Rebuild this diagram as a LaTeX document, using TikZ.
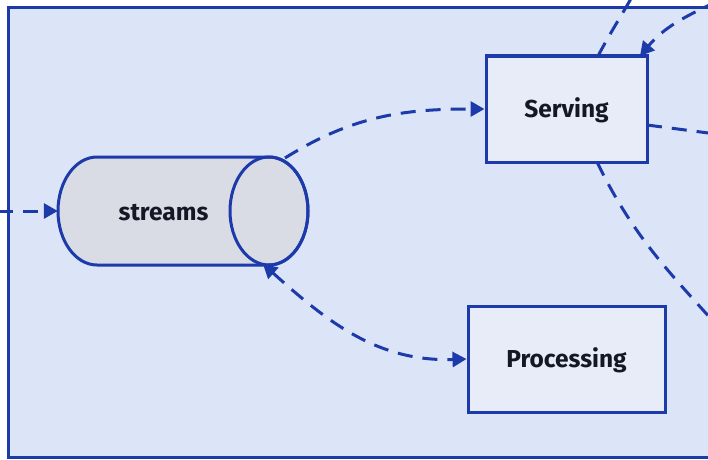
\documentclass[tikz,border=0pt]{standalone}
\usepackage{fontspec}
\setmainfont{Fira Sans}
\usetikzlibrary{arrows.meta}
\definecolor{edgeblue}{HTML}{1C3AA9}
\definecolor{areafill}{HTML}{DCE4F7}
\definecolor{boxfill}{HTML}{E8ECF8}
\definecolor{drumfill}{HTML}{D9DCE5}
\definecolor{labelink}{HTML}{141824}
\tikzset{
  frame/.style={draw=edgeblue, line width=3pt, fill=areafill},
  labelfont/.style={font=\fontsize{24.5}{29}\selectfont\bfseries, text=labelink},
  stagebox/.style={draw=edgeblue, line width=3pt, fill=boxfill, labelfont, inner sep=0pt,
    text depth=2pt},
  flow/.style={draw=edgeblue, line width=3pt, dash pattern=on 15pt off 10pt},
  tip/.style={-{Triangle[length=14pt,width=15pt]}},
  tips/.style={{Triangle[length=14pt,width=15pt]}-{Triangle[length=14pt,width=15pt]}},
}
\begin{document}
\begin{tikzpicture}[x=1pt,y=1pt]
  \useasboundingbox (0,0) rectangle (708,459);
  \clip (0,0) rectangle (708,459);
  \fill[white] (0,0) rectangle (708,459);
  % enclosing area
  \draw[frame] (8,2) rectangle (760,451);

  % streams drum
  \draw[draw=edgeblue, line width=3pt, fill=drumfill]
    (269,302) -- (97,302)
    arc[start angle=90, end angle=270, x radius=39, y radius=54]
    -- (269,194)
    arc[start angle=-90, end angle=90, x radius=39, y radius=54] -- cycle;
  \draw[draw=edgeblue, line width=3pt] (269,248) ellipse[x radius=39, y radius=54];
  \node[minimum width=250pt, minimum height=108pt, inner sep=0pt] (streams) at (183,248) {};
  \node[labelfont] (streamslabel) at (163.5,246) {streams};
  \coordinate (drumtop) at (285,301);
  \coordinate (drumbot) at (263,195);

  % stages
  \node[stagebox, minimum width=161pt, minimum height=106pt] (serving) at (566.5,350) {Serving};
  \node[stagebox, minimum width=197pt, minimum height=106pt] (processing) at (566.5,100) {Processing};

  % loose ends leaving the view
  \coordinate (inleft) at (-2,248);
  \coordinate (outup) at (632,462);
  \coordinate (infromup) at (718,458);
  \coordinate (outright) at (716,325);
  \coordinate (outdown) at (722,128);
  \coordinate (servtopL) at (598,403);
  \coordinate (servtopR) at (640,403);
  \coordinate (servright) at (647,334);
  \coordinate (servbot) at (597,297);

  % connectors
  \draw[flow, tip] (inleft) -- (streams.west);
  \draw[flow, tip] (drumtop) to[out=32, in=180] (serving.west);
  \draw[flow, tips] (drumbot) to[out=-42, in=182] (processing.west);
  \draw[flow] (servtopL) to[out=62, in=240] (outup);
  \draw[flow, tip] (infromup) to[out=205, in=50] (servtopR);
  \draw[flow] (servright) -- (outright);
  \draw[flow] (servbot) to[out=-64, in=132] (outdown);
\end{tikzpicture}
\end{document}
